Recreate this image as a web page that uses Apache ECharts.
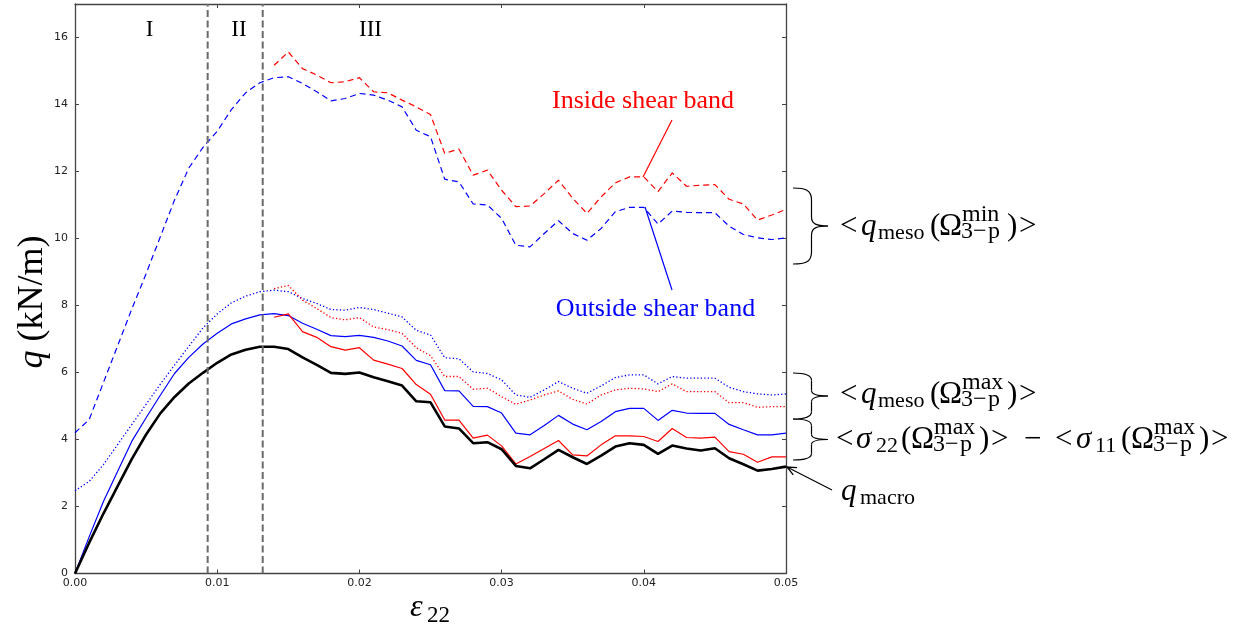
<!DOCTYPE html>
<html><head><meta charset="utf-8">
<script src="https://cdn.jsdelivr.net/npm/echarts@6/dist/echarts.min.js"></script>
<style>html,body{margin:0;padding:0;background:#fff}#c{width:1254px;height:636px}</style>
</head><body><div id="c"></div>
<script>
// strain epsilon_22 sample points
const strain = [0.000,0.001,0.002,0.003,0.004,0.005,0.006,0.007,0.008,0.009,
  0.010,0.011,0.012,0.013,0.014,0.015,0.016,0.017,0.018,0.019,
  0.020,0.021,0.022,0.023,0.024,0.025,0.026,0.027,0.028,0.029,
  0.030,0.031,0.032,0.033,0.034,0.035,0.036,0.037,0.038,0.039,
  0.040,0.041,0.042,0.043,0.044,0.045,0.046,0.047,0.048,0.049,0.050];
// q_macro (black)
const qMacro = [0,0.92,1.79,2.61,3.42,4.15,4.78,5.27,5.67,5.99,
  6.29,6.54,6.68,6.77,6.77,6.70,6.45,6.23,5.99,5.96,
  6.00,5.86,5.74,5.61,5.14,5.11,4.39,4.33,3.89,3.92,
  3.71,3.21,3.14,3.41,3.69,3.47,3.27,3.52,3.79,3.89,
  3.84,3.57,3.82,3.73,3.67,3.74,3.44,3.26,3.07,3.12,3.19];
// <s22>-<s11> outside shear band (blue solid)
const sigOut = [0,1.10,2.15,3.05,3.95,4.65,5.32,5.97,6.45,6.85,
  7.17,7.45,7.60,7.72,7.76,7.70,7.47,7.29,7.10,7.07,
  7.11,7.05,6.94,6.79,6.36,6.23,5.46,5.45,4.99,4.98,
  4.79,4.19,4.14,4.42,4.72,4.46,4.29,4.54,4.83,4.93,
  4.93,4.57,4.87,4.79,4.78,4.78,4.45,4.29,4.14,4.14,4.19];
// <s22>-<s11> inside shear band (red solid)
const sigIn = [null,null,null,null,null,null,null,null,null,null,
  null,null,null,null,7.65,7.75,7.22,7.05,6.77,6.67,
  6.74,6.37,6.25,6.12,5.64,5.35,4.58,4.58,4.04,4.13,
  3.81,3.27,3.49,3.73,3.97,3.54,3.51,3.84,4.11,4.11,
  4.09,3.94,4.33,4.06,4.04,4.07,3.64,3.56,3.32,3.48,3.48];
// q_meso(Omega max) outside (blue dotted)
const mesoMaxOut = [2.47,2.75,3.25,3.85,4.45,5.05,5.65,6.22,6.78,7.33,
  7.75,8.08,8.28,8.41,8.46,8.41,8.21,8.06,7.88,7.86,
  7.94,7.88,7.77,7.66,7.26,7.12,6.44,6.41,6.02,5.97,
  5.78,5.33,5.26,5.48,5.73,5.53,5.38,5.60,5.85,5.93,
  5.93,5.66,5.88,5.83,5.83,5.83,5.56,5.43,5.36,5.33,5.36];
// q_meso(Omega max) inside (red dotted)
const mesoMaxIn = [null,null,null,null,null,null,null,null,null,null,
  null,null,null,null,8.50,8.60,8.16,7.91,7.64,7.57,
  7.64,7.36,7.28,7.17,6.74,6.50,5.88,5.88,5.50,5.53,
  5.28,5.05,5.18,5.33,5.45,5.20,5.06,5.33,5.48,5.53,
  5.51,5.43,5.66,5.43,5.43,5.43,5.10,5.10,4.96,4.98,4.98];
// q_meso(Omega min) outside (blue dashed)
const mesoMinOut = [4.20,4.60,5.70,6.80,7.90,8.95,10.05,11.15,12.10,12.72,
  13.20,13.85,14.35,14.65,14.80,14.83,14.63,14.38,14.11,14.18,
  14.33,14.28,14.13,13.93,13.23,13.04,11.77,11.69,11.03,11.00,
  10.60,9.80,9.75,10.15,10.53,10.15,9.95,10.30,10.80,10.93,
  10.93,10.43,10.82,10.78,10.77,10.77,10.37,10.12,10.02,9.97,10.02];
// q_meso(Omega min) inside (red dashed)
const mesoMinIn = [null,null,null,null,null,null,null,null,null,null,
  null,null,null,null,15.17,15.57,15.07,14.88,14.65,14.68,
  14.80,14.38,14.35,14.13,13.93,13.70,12.54,12.67,11.89,12.04,
  11.44,10.95,10.97,11.34,11.74,11.20,10.75,11.24,11.66,11.84,
  11.84,11.40,11.96,11.56,11.59,11.61,11.17,11.03,10.55,10.70,10.87];
// regime boundaries (vertical dashed lines)
const regionBounds = [0.00933, 0.0132];
const regionLabels = ['I', 'II', 'III'];
const xMax = 0.05, yMax = 17;

const SERIF = '"Liberation Serif", "DejaVu Serif", serif';
const RED = '#ff0000', BLUE = '#0000ff';

function pairs(arr) {
  const out = [];
  strain.forEach((x, i) => { if (arr[i] != null) out.push([x, arr[i]]); });
  return out;
}
function line(name, data, color, dash, width, z) {
  return {
    name, type: 'line', data, symbol: 'none', smooth: false,
    silent: true, animation: false, z: z || 2,
    lineStyle: { color, width, type: dash || 'solid', cap: 'butt' }
  };
}
function T(s, x, base, size, o) {
  o = o || {};
  return {
    type: 'text', x: x, y: base - 0.34 * size, silent: true, z: 100,
    style: {
      text: s, fill: o.color || '#000',
      font: (o.italic ? 'italic ' : '') + size + 'px ' + SERIF,
      textAlign: o.align || 'left', textVerticalAlign: 'middle'
    }
  };
}
function seg(x1, y1, x2, y2, color, w) {
  return { type: 'line', silent: true, z: 100,
    shape: { x1, y1, x2, y2 }, style: { stroke: color || '#000', lineWidth: w || 1.2 } };
}
function bez(x1, y1, c1x, c1y, c2x, c2y, x2, y2) {
  return { type: 'bezierCurve', silent: true, z: 100,
    shape: { x1, y1, cpx1: c1x, cpy1: c1y, cpx2: c2x, cpy2: c2y, x2, y2 },
    style: { stroke: '#000', lineWidth: 1.2, fill: null } };
}
function brace(x0, xb, xt, y0, y1) {
  const ym = (y0 + y1) / 2;
  const h = (y1 - y0);
  const c = Math.min(12, h * 0.16);
  const t = Math.min(9, h * 0.12);
  return [
    bez(x0, y0, xb - 6, y0, xb, y0 + 2, xb, y0 + c),
    seg(xb, y0 + c, xb, ym - t, '#000', 1.2),
    bez(xb, ym - t, xb, ym - 2, xb + 5, ym, xt, ym),
    bez(xt, ym, xb + 5, ym, xb, ym + 2, xb, ym + t),
    seg(xb, ym + t, xb, y1 - c, '#000', 1.2),
    bez(xb, y1 - c, xb, y1 - 2, xb - 6, y1, x0, y1)
  ];
}

const g = [];
const M = 31, S = 24;
// region labels
const regionX = [149.5, 239, 370.5];
regionLabels.forEach((s, i) => g.push(T(s, regionX[i], 37.5, 23, { align: 'center' })));
// shear band annotations
g.push(T('Inside shear band', 643, 110, 26, { align: 'center', color: RED }));
g.push(seg(672, 120, 643, 177, RED, 1.2));
g.push(T('Outside shear band', 655.5, 318.5, 26, { align: 'center', color: BLUE }));
g.push(seg(645, 207, 672, 290, BLUE, 1.2));
// braces
brace(793, 811.5, 828, 188, 264).forEach(e => g.push(e));
brace(793, 811.5, 828, 373, 419).forEach(e => g.push(e));
brace(793, 811.5, 828, 419, 460).forEach(e => g.push(e));
function omega(x, base, sup) {
  g.push(T('Ω', x, base, M));
  g.push(T(sup, x + 23, base - 14, S));
  g.push(T('3', x + 22, base + 3, S));
  g.push(T('−', x + 34, base + 3, S));
  g.push(T('p', x + 49, base + 3, S));
}
// label: <q_meso(Omega^min_3-p)>
function mesoLabel(base, sup) {
  g.push(T('<', 840, base, M));
  g.push(T('q', 861, base, M, { italic: true }));
  g.push(T('meso', 878, base + 4, 22));
  g.push(T('(', 930, base, M));
  omega(939, base, sup);
  g.push(T(')', 1007, base, M));
  g.push(T('>', 1019, base, M));
}
mesoLabel(237, 'min');
mesoLabel(405, 'max');
// label: <sigma22(...)> - <sigma11(...)>
(function () {
  const b = 450;
  g.push(T('<', 836, b, M));
  g.push(T('σ', 856, b, M, { italic: true }));
  g.push(T('22', 876, b + 4, 22));
  g.push(T('(', 901, b, M));
  omega(911, b, 'max');
  g.push(T(')', 979, b, M));
  g.push(T('>', 991, b, M));
  g.push(T('−', 1024, b, M));
  g.push(T('<', 1055, b, M));
  g.push(T('σ', 1076, b, M, { italic: true }));
  g.push(T('11', 1095, b + 4, 22));
  g.push(T('(', 1121, b, M));
  omega(1131, b, 'max');
  g.push(T(')', 1199, b, M));
  g.push(T('>', 1211, b, M));
})();
// q_macro label + arrow
g.push(T('q', 841, 502, M, { italic: true }));
g.push(T('macro', 860, 506, 22));
(function () {
  const tx = 787, ty = 467, sx = 832, sy = 490;
  g.push(seg(sx, sy, tx, ty, '#000', 1.2));
  const dx = sx - tx, dy = sy - ty, L = Math.hypot(dx, dy);
  const ux = dx / L, uy = dy / L, hl = 10, a = 0.42;
  const p1 = [tx + hl * (ux * Math.cos(a) - uy * Math.sin(a)), ty + hl * (ux * Math.sin(a) + uy * Math.cos(a))];
  const p2 = [tx + hl * (ux * Math.cos(-a) - uy * Math.sin(-a)), ty + hl * (ux * Math.sin(-a) + uy * Math.cos(-a))];
  g.push({ type: 'polyline', silent: true, z: 100, shape: { points: [p1, [tx, ty], p2] },
    style: { stroke: '#000', lineWidth: 1.3, fill: null } });
})();
// axis titles
g.push({ type: 'text', x: 33, y: 302, rotation: Math.PI / 2, silent: true, z: 100,
  style: { text: '{i|q} (kN/m)', font: '36px ' + SERIF, fill: '#000',
    rich: { i: { font: 'italic 36px ' + SERIF, fill: '#000' } },
    textAlign: 'center', textVerticalAlign: 'middle' } });
g.push(T('ε', 410, 618, 32, { italic: true }));
g.push(T('22', 427, 624, 23));

const axisBase = {
  type: 'value', min: 0, splitLine: { show: false },
  axisLine: { show: true, onZero: false, lineStyle: { color: '#444', width: 1.3 } },
  axisTick: { show: true, inside: true, length: 4, lineStyle: { color: '#444', width: 1 } }
};
const tickFont = { fontFamily: '"DejaVu Sans", sans-serif', fontSize: 11, color: '#222' };

const boundarySeries = regionBounds.map((b, i) =>
  line('bound' + i, [[b, 0], [b, yMax]], '#6a6a6a', [7, 3.5], 2, 5));

const option = {
  animation: false,
  backgroundColor: '#fff',
  grid: { left: 75, top: 4, width: 711, height: 569.5, containLabel: false },
  xAxis: [
    Object.assign({}, axisBase, { max: xMax, interval: 0.01, position: 'bottom',
      axisLabel: Object.assign({ margin: 4, formatter: v => v.toFixed(2) }, tickFont) }),
    Object.assign({}, axisBase, { max: xMax, interval: 0.01, position: 'top', axisLabel: { show: false } })
  ],
  yAxis: [
    Object.assign({}, axisBase, { max: yMax, interval: 2, position: 'left',
      axisLabel: Object.assign({ margin: 7, showMaxLabel: false, formatter: v => (v > 16 ? '' : String(v)) }, tickFont) }),
    Object.assign({}, axisBase, { max: yMax, interval: 2, position: 'right', axisLabel: { show: false } })
  ],
  series: [
    line('mesoMinOut', pairs(mesoMinOut), BLUE, [6, 4], 1.2, 2),
    line('mesoMinIn', pairs(mesoMinIn), RED, [6, 4], 1.2, 2),
    line('mesoMaxOut', pairs(mesoMaxOut), BLUE, [1.3, 2.2], 1.3, 2),
    line('mesoMaxIn', pairs(mesoMaxIn), RED, [1.3, 2.2], 1.3, 2),
    line('sigOut', pairs(sigOut), BLUE, 'solid', 1.2, 3),
    line('sigIn', pairs(sigIn), RED, 'solid', 1.2, 3),
    line('qMacro', pairs(qMacro), '#000', 'solid', 2.6, 4)
  ].concat(boundarySeries),
  graphic: { elements: g }
};
const chart = echarts.init(document.getElementById('c'), null, { renderer: 'canvas' });
chart.setOption(option);
</script>
</body></html>
